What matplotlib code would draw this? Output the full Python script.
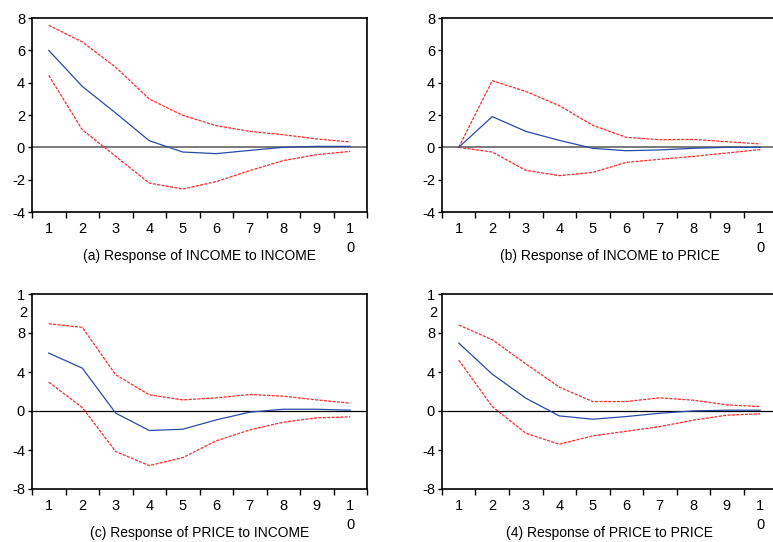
import matplotlib
matplotlib.use("Agg")
from matplotlib import pyplot as plt

periods = [1, 2, 3, 4, 5, 6, 7, 8, 9, 10]

# (a) INCOME to INCOME
a_resp = [6.0, 3.77, 2.12, 0.41, -0.29, -0.39, -0.19, 0.0, 0.06, 0.06]
a_upper = [7.55, 6.52, 4.95, 2.99, 1.98, 1.34, 0.99, 0.78, 0.52, 0.33]
a_lower = [4.45, 1.09, -0.56, -2.21, -2.58, -2.12, -1.44, -0.82, -0.45, -0.25]

# (b) INCOME to PRICE
b_resp = [0.0, 1.9, 0.99, 0.43, -0.06, -0.21, -0.16, -0.06, 0.0, 0.0]
b_upper = [0.0, 4.12, 3.46, 2.58, 1.36, 0.62, 0.47, 0.49, 0.35, 0.21]
b_lower = [0.0, -0.29, -1.42, -1.75, -1.55, -0.93, -0.74, -0.56, -0.35, -0.14]

# (c) PRICE to INCOME
c_resp = [5.94, 4.4, -0.22, -2.0, -1.87, -0.91, -0.12, 0.18, 0.18, 0.08]
c_upper = [8.95, 8.58, 3.71, 1.66, 1.14, 1.35, 1.69, 1.52, 1.14, 0.8]
c_lower = [2.96, 0.36, -4.16, -5.6, -4.78, -3.06, -1.94, -1.15, -0.7, -0.6]

# (4) PRICE to PRICE
d_resp = [6.97, 3.78, 1.32, -0.5, -0.84, -0.57, -0.23, 0.01, 0.08, 0.08]
d_upper = [8.82, 7.31, 4.84, 2.45, 0.97, 0.97, 1.35, 1.11, 0.63, 0.46]
d_lower = [5.22, 0.46, -2.28, -3.41, -2.55, -2.08, -1.6, -0.94, -0.43, -0.29]

titles = ["(a) Response of INCOME to INCOME", "(b) Response of INCOME to PRICE",
          "(c) Response of PRICE to INCOME", "(4) Response of PRICE to PRICE"]

top_ticks = [-4, -2, 0, 2, 4, 6, 8]
top_labels = ["-4", "-2", "0", "2", "4", "6", "8"]
bot_ticks = [-8, -4, 0, 4, 8, 12]
bot_labels = ["-8", "-4", "0", "4", "8", "1"]   # 12 is written "1" over "2"
x_labels = ["1", "2", "3", "4", "5", "6", "7", "8", "9", "1\n0"]

plt.rcParams['font.family'] = ['Liberation Sans', 'DejaVu Sans']

fig = plt.figure(figsize=(7.73, 5.42), dpi=100)
W, H = 773.0, 542.0

def panel(left, top, bottom, resp, upper, lower, yticks, ylabels, title, zero_col, zero_w):
    ax = fig.add_axes([left / W, 1 - bottom / H, 335 / W, (bottom - top) / H])
    ax.plot(periods, upper, color="#ff2a2a", lw=0.9, ls=(0, (2.5, 1)))
    ax.plot(periods, lower, color="#ff2a2a", lw=0.9, ls=(0, (2.5, 1)))
    ax.plot(periods, resp, color="#2a4aa8", lw=0.9)
    ax.axhline(0, color=zero_col, lw=zero_w, zorder=1)
    ax.set_xlim(0.5, 10.5)
    ax.set_ylim(yticks[0], yticks[-1])
    ax.set_xticks([i + 0.5 for i in range(11)])
    ax.set_xticklabels([])
    ax.set_xticks(periods, minor=True)
    ax.set_xticklabels(x_labels, minor=True, fontsize=10.5, linespacing=1.45)
    ax.tick_params(axis='x', which='major', direction='out', length=4, width=1)
    ax.tick_params(axis='x', which='minor', length=0, pad=7)
    ax.set_yticks(yticks)
    ax.set_yticklabels(ylabels, fontsize=10.5)
    ax.tick_params(axis='y', direction='out', length=3, width=1, pad=2)
    if ylabels[-1] == "1":
        ax.annotate("2", xy=(0, yticks[-1]), xycoords=('axes fraction', 'data'),
                    xytext=(-5, -19), textcoords='offset pixels',
                    ha='right', va='center', fontsize=10.5)
    for s in ax.spines.values():
        s.set_linewidth(1.2)
    ax.annotate(title, xy=(0.5, 0), xycoords='axes fraction', xytext=(0, -44),
                textcoords='offset pixels', ha='center', va='center', fontsize=10)
    return ax

panel(32, 18, 212, a_resp, a_upper, a_lower, top_ticks, top_labels, titles[0], "#707070", 1.3)
panel(442, 18, 212, b_resp, b_upper, b_lower, top_ticks, top_labels, titles[1], "#707070", 1.3)
panel(32, 294, 489, c_resp, c_upper, c_lower, bot_ticks, bot_labels, titles[2], "black", 0.9)
panel(442, 294, 489, d_resp, d_upper, d_lower, bot_ticks, bot_labels, titles[3], "black", 0.9)

fig.savefig("out.png", dpi=100)
